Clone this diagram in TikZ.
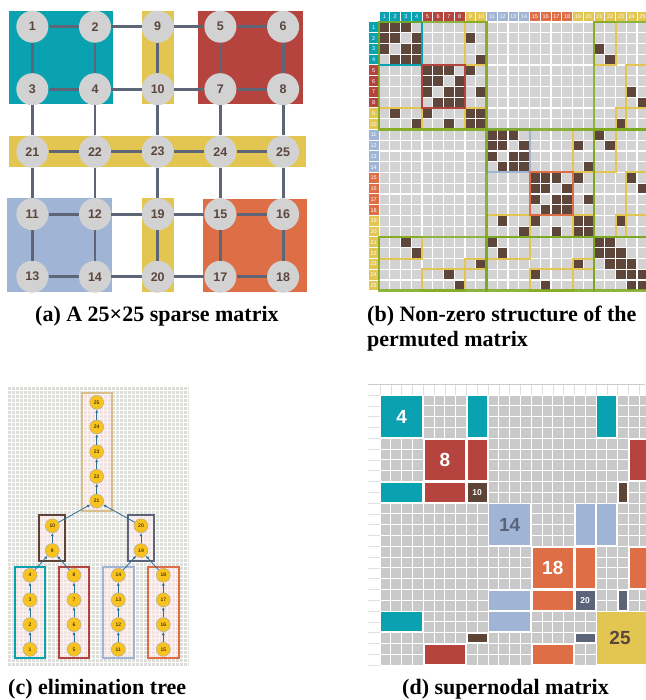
\documentclass[tikz,border=0pt]{standalone}
\usepackage{fontspec}
\setmainfont{Liberation Serif}
\newfontfamily\labelfont{Liberation Sans}
\usetikzlibrary{fit,arrows.meta}
\pgfdeclarelayer{grid}
\pgfdeclarelayer{frames}
\pgfsetlayers{grid,frames,main}

\definecolor{snA}{HTML}{0AA2B1}
\definecolor{snB}{HTML}{B5443F}
\definecolor{snC}{HTML}{E3C652}
\definecolor{snD}{HTML}{A0B5D5}
\definecolor{snE}{HTML}{DD6E45}
\definecolor{snF}{HTML}{5C6479}
\definecolor{snG}{HTML}{5E4337}
\definecolor{etan}{HTML}{D9BF8C}
\definecolor{linkgray}{HTML}{5E6577}
\definecolor{nodegray}{HTML}{D2D2D2}
\definecolor{inkbrown}{HTML}{5B463F}
\definecolor{cellgray}{HTML}{D3D3D4}
\definecolor{cellgrayd}{HTML}{C9C9C9}
\definecolor{nzbrown}{HTML}{5E463B}
\definecolor{frontgreen}{HTML}{7BA81E}
\definecolor{treegold}{HTML}{F9C31F}
\definecolor{treeblue}{HTML}{2B6F96}
\definecolor{treegrid}{HTML}{DDDDD9}

\newcommand{\gridedges}{1/2,2/9,9/5,5/6,3/4,4/10,10/7,7/8,21/22,22/23,23/24,24/25,11/12,12/19,19/15,15/16,13/14,14/20,20/17,17/18,1/3,3/21,21/11,11/13,2/4,4/22,22/12,12/14,9/10,10/23,23/19,19/20,5/7,7/24,24/15,15/17,6/8,8/25,25/16,16/18}
\newcommand{\pb}{10.75}
\newcommand{\pd}{10.8}

\tikzset{
  gnode/.style={circle,fill=nodegray,minimum size=32pt,inner sep=0pt,text=inkbrown,
    font=\labelfont\bfseries\fontsize{12.5}{13}\selectfont},
  glink/.style={draw=linkgray,line width=2.8pt},
  capt/.style={anchor=west,inner sep=0pt,font=\bfseries\fontsize{22}{25}\selectfont},
  hdr/.style={text=white,minimum size=9.75pt,inner sep=0pt,font=\labelfont\fontsize{5.5}{6}\selectfont},
  yframe/.style={draw=snC,line width=2pt},
  gframe/.style={draw=frontgreen,line width=2.6pt,opacity=0.85},
  tnode/.style={circle,fill=treegold,draw=black!35,line width=0.4pt,minimum size=14pt,inner sep=0pt,
    font=\labelfont\fontsize{5}{5}\selectfont},
  tlink/.style={draw=treeblue,line width=0.8pt,-{Latex[length=3.2pt,width=3pt]}},
  tbox/.style={draw=#1,line width=2pt,fill=pink!35,fill opacity=0.5},
  sblock/.style={fill=#1,draw=white,line width=1.5pt},
}

\begin{document}
\begin{tikzpicture}[x=1pt,y=-1pt]
\useasboundingbox (0,0) rectangle (645,700);

% (a) the graph
\fill[snA] (9.3,11) rectangle (113.3,104.3);
\fill[snB] (198.3,11) rectangle (302.7,104.3);
\fill[snC] (141.7,11) rectangle (174,104.3);
\fill[snC] (9.3,136) rectangle (306,167.3);
\fill[snD] (7.3,198.3) rectangle (111.7,292.3);
\fill[snC] (141.7,198.3) rectangle (174,292.3);
\fill[snE] (202.7,199.3) rectangle (306.7,292.3);
\foreach \n/\c/\r in {1/1/1,2/2/1,9/3/1,5/4/1,6/5/1,3/1/2,4/2/2,10/3/2,7/4/2,8/5/2,
    21/1/3,22/2/3,23/3/3,24/4/3,25/5/3,11/1/4,12/2/4,19/3/4,15/4/4,16/5/4,
    13/1/5,14/2/5,20/3/5,17/4/5,18/5/5}
  \node[gnode] (g\n) at ({32.3+62.7*(\c-1)},{26.7+62.5*(\r-1)}) {\n};
\foreach \a/\b in \gridedges
  \draw[glink] (g\a) -- (g\b);
\node[capt] (capa) at (35,316) {(a) A 25×25 sparse matrix};

% (b) non-zero structure
\fill[cellgray] (379,22) rectangle ++(268.75,268.75);
\foreach \i in {1,...,25}
  \fill[nzbrown] ({379+(\i-1)*\pb},{22+(\i-1)*\pb}) rectangle ++(\pb,\pb);
\foreach \a/\b in \gridedges {
  \fill[nzbrown] ({379+(\b-1)*\pb},{22+(\a-1)*\pb}) rectangle ++(\pb,\pb);
  \fill[nzbrown] ({379+(\a-1)*\pb},{22+(\b-1)*\pb}) rectangle ++(\pb,\pb);
}
\foreach \k in {0,...,25} {
  \draw[white,line width=1.1pt] ({379+\k*\pb},22) -- ++(0,268.75);
  \draw[white,line width=1.1pt] (379,{22+\k*\pb}) -- ++(268.75,0);
}
\foreach \k/\c in {1/snA,2/snA,3/snA,4/snA,5/snB,6/snB,7/snB,8/snB,9/snC,10/snC,
    11/snD,12/snD,13/snD,14/snD,15/snE,16/snE,17/snE,18/snE,
    19/snC,20/snC,21/snC,22/snC,23/snC,24/snC,25/snC} {
  \node[hdr,fill=\c] (h\k) at ({379+(\k-0.5)*\pb},{22-0.5*\pb}) {\k};
  \node[hdr,fill=\c] (v\k) at ({379-0.5*\pb},{22+(\k-0.5)*\pb}) {\k};
}
\foreach \ra/\rb/\ca/\cb in {1/4/9/10,9/10/1/4,5/8/9/10,9/10/5/8,9/10/9/10,
    1/4/21/22,21/22/1/4,5/8/24/25,24/25/5/8,9/10/23/23,23/23/9/10,
    11/14/19/20,19/20/11/14,15/18/19/20,19/20/15/18,19/20/19/20,
    11/14/21/22,21/22/11/14,15/18/24/25,24/25/15/18,19/20/23/23,23/23/19/20}
  \draw[yframe] ({379+(\ca-1)*\pb},{22+(\ra-1)*\pb}) rectangle ({379+\cb*\pb},{22+\rb*\pb});
\foreach \ra/\rb/\c in {1/4/snA,5/8/snB,11/14/snD,15/18/snE}
  \draw[\c,line width=2pt] ({379+(\ra-1)*\pb},{22+(\ra-1)*\pb}) rectangle ({379+\rb*\pb},{22+\rb*\pb});
\foreach \ra/\rb/\ca/\cb in {1/10/1/10,11/20/11/20,21/25/21/25,1/10/21/25,21/25/1/10,11/20/21/25,21/25/11/20}
  \draw[gframe] ({379+(\ca-1)*\pb},{22+(\ra-1)*\pb}) rectangle ({379+\cb*\pb},{22+\rb*\pb});
\node[capt] (capb) at (367,316) {(b) Non-zero structure of the};
\node[capt] (capb2) at (367,341) {permuted matrix};

% (c) elimination tree
\begin{pgfonlayer}{grid}
\fill[treegrid] (7.3,386) rectangle (189.3,666.7);
\foreach \k in {0,...,45}
  \draw[white,line width=0.7pt] ({7.3+4*\k},386) -- ++(0,280.7);
\foreach \k in {0,...,70}
  \draw[white,line width=0.7pt] (7.3,{386+4*\k}) -- ++(182,0);
\end{pgfonlayer}
\foreach \n/\x/\k in {1/30/0,2/30/1,3/30/2,4/30/3,5/74/0,6/74/1,7/74/2,8/74/3,
    11/118.3/0,12/118.3/1,13/118.3/2,14/118.3/3,15/163.3/0,16/163.3/1,17/163.3/2,18/163.3/3,
    9/52.3/4,10/52.3/5,19/141/4,20/141/5,21/96.7/6,22/96.7/7,23/96.7/8,24/96.7/9,25/96.7/10}
  \node[tnode] (t\n) at (\x,{649.3-24.7*\k}) {\n};
\foreach \a/\b in {1/2,2/3,3/4,4/9,5/6,6/7,7/8,8/9,9/10,10/21,11/12,12/13,13/14,14/19,
    15/16,16/17,17/18,18/19,19/20,20/21,21/22,22/23,23/24,24/25}
  \draw[tlink] (t\a) -- (t\b);
\begin{pgfonlayer}{frames}
\node[tbox=etan,fit=(t21)(t25),inner xsep=8pt,inner ysep=2.5pt] (boxG) {};
\node[tbox=snG,fit=(t9)(t10),inner xsep=5.8pt,inner ysep=3.5pt] (boxC) {};
\node[tbox=snF,fit=(t19)(t20),inner xsep=5.8pt,inner ysep=3.5pt] (boxF) {};
\node[tbox=snA,fit=(t1)(t4),inner xsep=8pt,inner ysep=1.5pt] (boxA) {};
\node[tbox=snB,fit=(t5)(t8),inner xsep=8pt,inner ysep=1.5pt] (boxB) {};
\node[tbox=snD,fit=(t11)(t14),inner xsep=8pt,inner ysep=1.5pt] (boxD) {};
\node[tbox=snE,fit=(t15)(t18),inner xsep=8pt,inner ysep=1.5pt] (boxE) {};
\end{pgfonlayer}
\node[capt] (capc) at (8,689) {(c) elimination tree};

% (d) supernodal matrix
\fill[cellgrayd] (380,395) rectangle ++(270,270);
\draw[black!20,line width=0.8pt] (368,384.6) -- (645,384.6);
\foreach \k in {0,...,25} {
  \draw[white,line width=0.8pt] ({380+\k*\pd},395) -- ++(0,270);
  \draw[white,line width=0.8pt] (380,{395+\k*\pd}) -- ++(270,0);
  \draw[black!12,line width=0.6pt] ({380+\k*\pd},384.6) -- ++(0,10.4);
  \draw[black!12,line width=0.6pt] (368,{395+\k*\pd}) -- ++(12,0);
}
\foreach \ra/\rb/\ca/\cb/\c in {1/4/1/4/snA,1/4/9/10/snA,1/4/21/22/snA,
    5/8/5/8/snB,5/8/9/10/snB,5/8/24/25/snB,
    9/10/1/4/snA,9/10/5/8/snB,9/10/9/10/snG,9/10/23/23/snG,
    11/14/11/14/snD,11/14/19/20/snD,11/14/21/22/snD,
    15/18/15/18/snE,15/18/19/20/snE,15/18/24/25/snE,
    19/20/11/14/snD,19/20/15/18/snE,19/20/19/20/snF,19/20/23/23/snF,
    21/22/1/4/snA,21/22/11/14/snD,23/23/9/10/snG,23/23/19/20/snF,
    24/25/5/8/snB,24/25/15/18/snE,21/25/21/25/snC}
  \draw[sblock=\c] ({380+(\ca-1)*\pd+0.6},{395+(\ra-1)*\pd+0.6}) rectangle ({380+\cb*\pd-0.6},{395+\rb*\pd-0.6});
\node[text=white,font=\labelfont\bfseries\fontsize{19}{19}\selectfont] (d4) at ({380+2*\pd},{395+2*\pd}) {4};
\node[text=white,font=\labelfont\bfseries\fontsize{19}{19}\selectfont] (d8) at ({380+6*\pd},{395+6*\pd}) {8};
\node[text=white,font=\labelfont\bfseries\fontsize{8.5}{9}\selectfont] (d10) at ({380+9*\pd},{395+9*\pd}) {10};
\node[text=snF,font=\labelfont\bfseries\fontsize{19}{19}\selectfont] (d14) at ({380+12*\pd},{395+12*\pd}) {14};
\node[text=white,font=\labelfont\bfseries\fontsize{19}{19}\selectfont] (d18) at ({380+16*\pd},{395+16*\pd}) {18};
\node[text=white,font=\labelfont\bfseries\fontsize{8.5}{9}\selectfont] (d20) at ({380+19*\pd},{395+19*\pd}) {20};
\node[text=inkbrown,font=\labelfont\bfseries\fontsize{19}{19}\selectfont] (d25) at ({380+22.5*\pd-3},{395+22.5*\pd}) {25};
\node[capt] (capd) at (402,689) {(d) supernodal matrix};
\end{tikzpicture}
\end{document}
